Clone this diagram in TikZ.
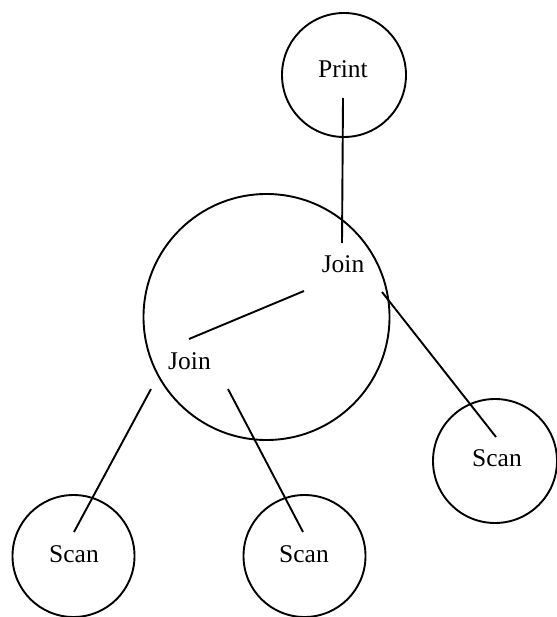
\documentclass[tikz,border=0pt]{standalone}
\usepackage{fontspec}
\setmainfont{Liberation Serif}
\begin{document}
\begin{tikzpicture}[x=1pt,y=-1pt,
  ring/.style={draw,circle,line width=1.9pt,inner sep=0pt},
  lbl/.style={anchor=base,inner sep=0pt,font=\fontsize{25.5}{28}\selectfont},
  link/.style={line width=1.9pt}]
\useasboundingbox (0,0) rectangle (556,617);
% circles
\node[ring,minimum size=124pt] (printc) at (344,75) {};
\node[ring,minimum size=246pt] (bigc) at (266.5,317) {};
\node[ring,minimum size=124pt] (scanr) at (495,461) {};
\node[ring,minimum size=122pt] (scanl) at (73.5,556) {};
\node[ring,minimum size=122pt] (scanm) at (304.5,556) {};
% labels
\node[lbl] (print) at (343,78) {Print};
\node[lbl] (joina) at (343,272) {Join};
\node[lbl] (joinb) at (189.5,369) {Join};
\node[lbl] (scanrt) at (497,466) {Scan};
\node[lbl] (scanlt) at (74,562) {Scan};
\node[lbl] (scanmt) at (304,562) {Scan};
% connector ends
\coordinate (a1) at (343,98);
\coordinate (a2) at (342,243);
\coordinate (b1) at (304,291);
\coordinate (b2) at (189,339);
\coordinate (c1) at (382,292);
\coordinate (c2) at (496,437);
\coordinate (d1) at (151,389);
\coordinate (d2) at (74,532);
\coordinate (e1) at (228,389);
\coordinate (e2) at (303,532);
\draw[link] (a1) -- (a2);
\draw[link] (b1) -- (b2);
\draw[link] (c1) -- (c2);
\draw[link] (d1) -- (d2);
\draw[link] (e1) -- (e2);
\end{tikzpicture}
\end{document}
